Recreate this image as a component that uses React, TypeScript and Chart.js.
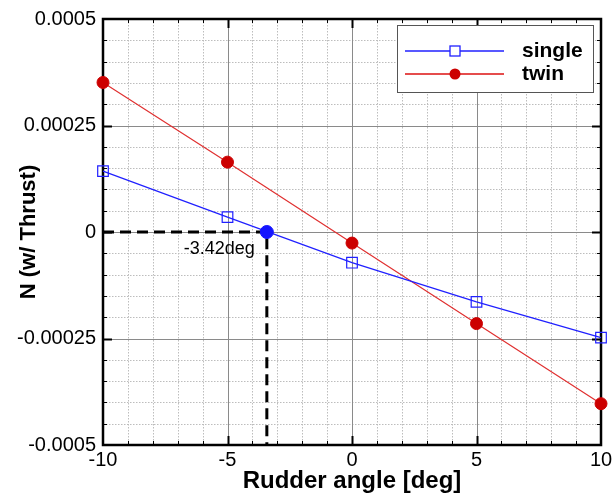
import { useEffect, useRef } from 'react';
import { Chart, registerables } from 'chart.js';

Chart.register(...registerables);

// ---- data ----
const rudderAngles = [-10, -5, 0, 5, 10];
const singleN = [0.000143, 0.000035, -0.000072, -0.000164, -0.000248];
const twinN = [0.000351, 0.000164, -0.000026, -0.000215, -0.000403];
const crossingAngle = [-3.42];
const crossingN = [0];
const crossingLabel = '-3.42deg';
const seriesNames = ['single', 'twin'];
const xTickLabels = ['-10', '-5', '0', '5', '10'];
const yTickLabels = ['-0.0005', '-0.00025', '0', '0.00025', '0.0005'];
const xTitle = 'Rudder angle [deg]';
const yTitle = 'N (w/ Thrust)';

const X_MIN = -10, X_MAX = 10, X_MAJOR = 5, X_MINOR = 1;
const Y_MIN = -0.0005, Y_MAX = 0.0005, Y_MAJOR = 0.00025, Y_MINOR = 0.00005;

const FONT = "'Liberation Sans', Arial, Helvetica, sans-serif";
const BLUE = '#2020ff';
const RED = '#dd1111';

const decor = {
  id: 'decor',
  beforeDatasetsDraw(chart: any) {
    const { ctx, chartArea: a, scales } = chart;
    const x = scales.x, y = scales.y;
    ctx.save();
    const nx = Math.round((X_MAX - X_MIN) / X_MINOR);
    const ny = Math.round((Y_MAX - Y_MIN) / Y_MINOR);
    const perX = Math.round(X_MAJOR / X_MINOR);
    const perY = Math.round(Y_MAJOR / Y_MINOR);
    // minor grid
    ctx.lineWidth = 1;
    ctx.strokeStyle = '#bdbdbd';
    ctx.setLineDash([1.5, 1.5]);
    for (let i = 1; i < nx; i++) {
      if (i % perX === 0) continue;
      const px = Math.round(x.getPixelForValue(X_MIN + i * X_MINOR)) + 0.5;
      ctx.beginPath(); ctx.moveTo(px, a.top); ctx.lineTo(px, a.bottom); ctx.stroke();
    }
    for (let j = 1; j < ny; j++) {
      if (j % perY === 0) continue;
      const py = Math.round(y.getPixelForValue(Y_MIN + j * Y_MINOR)) + 0.5;
      ctx.beginPath(); ctx.moveTo(a.left, py); ctx.lineTo(a.right, py); ctx.stroke();
    }
    // major grid
    ctx.setLineDash([]);
    ctx.strokeStyle = '#8a8a8a';
    for (let i = perX; i < nx; i += perX) {
      const px = Math.round(x.getPixelForValue(X_MIN + i * X_MINOR)) + 0.5;
      ctx.beginPath(); ctx.moveTo(px, a.top); ctx.lineTo(px, a.bottom); ctx.stroke();
    }
    for (let j = perY; j < ny; j += perY) {
      const py = Math.round(y.getPixelForValue(Y_MIN + j * Y_MINOR)) + 0.5;
      ctx.beginPath(); ctx.moveTo(a.left, py); ctx.lineTo(a.right, py); ctx.stroke();
    }
    // tick marks (inside)
    ctx.strokeStyle = '#000';
    for (let i = 1; i < nx; i++) {
      const major = i % perX === 0;
      const len = major ? 9 : 4;
      ctx.lineWidth = major ? 2 : 1;
      const px = Math.round(x.getPixelForValue(X_MIN + i * X_MINOR)) + 0.5;
      ctx.beginPath(); ctx.moveTo(px, a.bottom); ctx.lineTo(px, a.bottom - len); ctx.stroke();
      ctx.beginPath(); ctx.moveTo(px, a.top); ctx.lineTo(px, a.top + len); ctx.stroke();
    }
    for (let j = 1; j < ny; j++) {
      const major = j % perY === 0;
      const len = major ? 9 : 4;
      ctx.lineWidth = major ? 2 : 1;
      const py = Math.round(y.getPixelForValue(Y_MIN + j * Y_MINOR)) + 0.5;
      ctx.beginPath(); ctx.moveTo(a.left, py); ctx.lineTo(a.left + len, py); ctx.stroke();
      ctx.beginPath(); ctx.moveTo(a.right, py); ctx.lineTo(a.right - len, py); ctx.stroke();
    }
    // frame
    ctx.lineWidth = 2.5;
    ctx.strokeStyle = '#000';
    ctx.strokeRect(a.left, a.top, a.right - a.left, a.bottom - a.top);
    ctx.restore();
  },
  afterDatasetsDraw(chart: any) {
    const { ctx, chartArea: a, scales } = chart;
    const x = scales.x, y = scales.y;
    ctx.save();
    // crossing label
    ctx.fillStyle = '#000';
    ctx.font = `18px ${FONT}`;
    ctx.textAlign = 'right';
    ctx.textBaseline = 'top';
    ctx.fillText(crossingLabel, x.getPixelForValue(crossingAngle[0]) - 12, y.getPixelForValue(crossingN[0]) + 8);

    // legend
    const bx = a.right - 204, by = a.top + 6, bw = 196, bh = 67;
    ctx.fillStyle = '#fff';
    ctx.fillRect(bx, by, bw, bh);
    ctx.strokeStyle = '#555';
    ctx.lineWidth = 1;
    ctx.strokeRect(bx + 0.5, by + 0.5, bw, bh);
    const rows = [
      { name: seriesNames[0], color: BLUE, marker: 'square' },
      { name: seriesNames[1], color: RED, marker: 'circle' },
    ];
    rows.forEach((r, i) => {
      const ry = by + 26 + i * 23;
      const lx0 = bx + 8, lx1 = bx + 107, mx = bx + 58;
      ctx.strokeStyle = r.color;
      ctx.lineWidth = 1.3;
      ctx.beginPath(); ctx.moveTo(lx0, ry); ctx.lineTo(lx1, ry); ctx.stroke();
      if (r.marker === 'square') {
        ctx.fillStyle = '#fff';
        ctx.fillRect(mx - 5, ry - 5, 10, 10);
        ctx.strokeRect(mx - 5, ry - 5, 10, 10);
      } else {
        ctx.fillStyle = '#cc0000';
        ctx.beginPath(); ctx.arc(mx, ry, 5.5, 0, Math.PI * 2); ctx.fill();
      }
      ctx.fillStyle = '#000';
      ctx.font = `bold 21px ${FONT}`;
      ctx.textAlign = 'left';
      ctx.textBaseline = 'middle';
      ctx.fillText(r.name, bx + 125, ry);
    });
    ctx.restore();
  },
};

export default function App() {
  const ref = useRef<HTMLCanvasElement>(null);
  useEffect(() => {
    if (!ref.current) return;
    const chart = new Chart(ref.current, {
      type: 'line',
      data: {
        datasets: [
          {
            label: 'crossing',
            data: crossingAngle.map((v, i) => ({ x: v, y: crossingN[i] })),
            showLine: false,
            pointRadius: 6.5,
            pointBackgroundColor: '#1515ff',
            pointBorderColor: '#1515ff',
            pointBorderWidth: 1,
            clip: false,
          },
          {
            label: seriesNames[0],
            data: rudderAngles.map((v, i) => ({ x: v, y: singleN[i] })),
            borderColor: BLUE,
            borderWidth: 1.2,
            pointStyle: 'rect',
            pointRadius: 7.5,
            pointBackgroundColor: 'rgba(255,255,255,0)',
            pointBorderColor: BLUE,
            pointBorderWidth: 1.2,
            clip: false,
          },
          {
            label: seriesNames[1],
            data: rudderAngles.map((v, i) => ({ x: v, y: twinN[i] })),
            borderColor: '#e03030',
            borderWidth: 1.2,
            pointStyle: 'circle',
            pointRadius: 6,
            pointBackgroundColor: '#cc0000',
            pointBorderColor: '#cc0000',
            pointBorderWidth: 1,
            clip: false,
          },
          {
            label: 'guide',
            data: [
              { x: X_MIN, y: crossingN[0] },
              { x: crossingAngle[0], y: crossingN[0] },
              { x: crossingAngle[0], y: Y_MIN },
            ],
            borderColor: '#000',
            borderWidth: 3,
            borderDash: [11, 6],
            pointRadius: 0,
          },
        ],
      },
      options: {
        animation: false,
        responsive: false,
        layout: { padding: { top: 18, right: 15, left: 0, bottom: 0 } },
        plugins: { legend: { display: false }, tooltip: { enabled: false } },
        scales: {
          x: {
            type: 'linear',
            min: X_MIN,
            max: X_MAX,
            grid: { display: false, drawTicks: false },
            border: { display: false },
            ticks: {
              stepSize: X_MAJOR,
              color: '#000',
              padding: 3,
              font: { family: FONT, size: 20 },
              callback: (v: any) => {
                const idx = xTickLabels.findIndex((l) => Math.abs(parseFloat(l) - v) < 1e-9);
                return idx >= 0 ? xTickLabels[idx] : '';
              },
            },
            title: {
              display: true,
              text: xTitle,
              color: '#000',
              font: { family: FONT, size: 24, weight: 'bold' },
              padding: { top: 0, bottom: 0 },
            },
            afterFit: (s: any) => { s.height = 51; },
          },
          y: {
            type: 'linear',
            min: Y_MIN,
            max: Y_MAX,
            grid: { display: false, drawTicks: false },
            border: { display: false },
            ticks: {
              stepSize: Y_MAJOR,
              color: '#000',
              padding: 7,
              font: { family: FONT, size: 20 },
              callback: (v: any) => {
                const idx = yTickLabels.findIndex((l) => Math.abs(parseFloat(l) - v) < 1e-12);
                return idx >= 0 ? yTickLabels[idx] : '';
              },
            },
            title: {
              display: true,
              text: yTitle,
              color: '#000',
              font: { family: FONT, size: 22, weight: 'bold' },
              padding: { top: 16, bottom: 0 },
            },
            afterFit: (s: any) => { s.width = 103; },
          },
        },
      },
      plugins: [decor],
    } as any);
    return () => chart.destroy();
  }, []);
  return (
    <div style={{ position: 'absolute', left: 0, top: 0, width: 616, height: 496, background: '#fff' }}>
      <canvas ref={ref} width={616} height={496} />
    </div>
  );
}
